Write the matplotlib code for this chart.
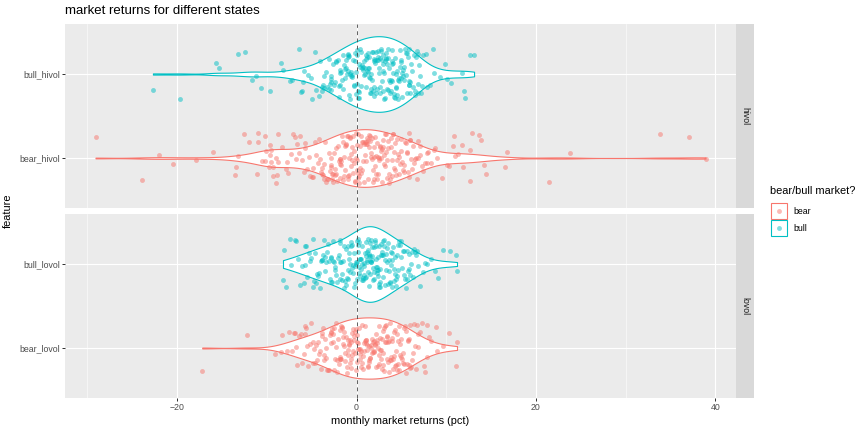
import numpy as np
import matplotlib
matplotlib.use("Agg")
import matplotlib.pyplot as plt
from matplotlib.patches import Rectangle

plt.rcParams['font.family'] = ['Liberation Sans', 'DejaVu Sans']

# ---------------- data (monthly market returns, pct) ----------------
bull_hivol = [
    -22.7, -19.7, -15.7, -15.3, -13.2, -12.4, -11.7, -11.2, -10.7, -9.6,
    -8.4, -8.2, -7.4, -7.2, -6.4, -6.2, -6.1, -6.0, -5.9, -5.4,
    -5.1, -5.0, -4.6, -4.5, -4.2, -4.1, -3.7,
    -3.9, -3.8, -3.6, -3.6, -3.4, -3.3, -3.1, -3.1, -3.0,
    -2.9, -2.8, -2.8, -2.6, -2.5, -2.4, -2.3, -2.3, -2.1, -2.0, -2.0, -2.9,
    -1.9, -1.8, -1.8, -1.7, -1.5, -1.5, -1.4, -1.3, -1.2, -1.2, -1.1, -1.0, -1.0, -1.6, -1.3,
    -0.9, -0.9, -0.8, -0.7, -0.7, -0.6, -0.5, -0.5, -0.4, -0.3, -0.3, -0.2, -0.1, -0.1, 0.0, -0.6, -0.2, -0.8,
    0.1, 0.1, 0.2, 0.3, 0.3, 0.4, 0.5, 0.5, 0.6, 0.6, 0.7, 0.8, 0.8, 0.9, 0.9, 1.0, 0.2, 0.4, 0.7, 0.3,
    1.1, 1.1, 1.2, 1.3, 1.3, 1.4, 1.4, 1.5, 1.6, 1.6, 1.7, 1.7, 1.8, 1.8, 1.9, 2.0, 1.2, 1.5, 1.9, 1.4, 1.6, 1.3,
    2.1, 2.1, 2.2, 2.3, 2.3, 2.4, 2.4, 2.5, 2.6, 2.6, 2.7, 2.7, 2.8, 2.9, 2.9, 3.0, 2.2, 2.5, 2.8, 2.4, 2.6, 2.0,
    3.1, 3.1, 3.2, 3.3, 3.3, 3.4, 3.5, 3.5, 3.6, 3.7, 3.7, 3.8, 3.9, 3.9, 4.0, 3.2, 3.4, 3.6, 3.8, 3.0, 3.5, 3.3,
    4.1, 4.1, 4.2, 4.3, 4.4, 4.4, 4.5, 4.6, 4.6, 4.7, 4.8, 4.9, 4.9, 5.0, 4.2, 4.5, 4.8, 4.3, 4.7, 4.0, 4.4,
    5.1, 5.2, 5.2, 5.3, 5.4, 5.5, 5.6, 5.7, 5.8, 5.9, 6.0, 5.3, 5.5, 5.8, 5.1, 5.6, 5.9,
    6.1, 6.2, 6.4, 6.5, 6.7, 6.8, 6.9, 6.3, 6.6, 6.0, 6.5, 6.9,
    7.0, 7.1, 7.3, 7.7, 7.4, 7.9, 7.2, 8.5, 8.6, 8.2, 9.9, 10.1, 9.3, 10.5,
    11.8, 12.0, 12.1, 12.6, 13.1,
]

bear_hivol = [
    -29.1, -23.9, -22.0, -20.5, -17.9, -16.0, -13.6, -13.4, -13.2, -12.5,
    -12.0, -11.1, -11.0, -11.0, -10.5, -10.2, -10.2, -10.1, -9.8, -9.7,
    -9.6, -9.5, -9.5, -9.3, -9.3, -9.0, -9.0, -8.9, -8.8, -8.8, -8.3,
    -7.9, -7.7, -7.6, -7.3, -7.1,
    -6.9, -6.8, -6.6, -6.4, -6.3, -6.1,
    -5.9, -5.8, -5.7, -5.5, -5.3, -5.2, -5.0,
    -4.9, -4.8, -4.6, -4.5, -4.3, -4.2, -4.1, -4.0,
    -3.9, -3.8, -3.7, -3.6, -3.5, -3.4, -3.3, -3.2, -3.1, -3.0, -3.6,
    -2.9, -2.9, -2.8, -2.7, -2.6, -2.6, -2.5, -2.4, -2.3, -2.3, -2.2, -2.1, -2.0, -2.7, -2.4,
    -1.9, -1.9, -1.8, -1.7, -1.7, -1.6, -1.5, -1.4, -1.4, -1.3, -1.2, -1.2, -1.1, -1.0, -1.5, -1.8, -1.3,
    -0.9, -0.9, -0.8, -0.8, -0.7, -0.6, -0.6, -0.5, -0.4, -0.4, -0.3, -0.2, -0.2, -0.1, 0.0, -0.5, -0.7, -0.3, -0.1,
    0.1, 0.1, 0.2, 0.2, 0.3, 0.4, 0.4, 0.5, 0.5, 0.6, 0.7, 0.7, 0.8, 0.8, 0.9, 1.0, 0.3, 0.6, 0.9, 0.2,
    1.1, 1.1, 1.2, 1.3, 1.3, 1.4, 1.5, 1.5, 1.6, 1.7, 1.7, 1.8, 1.9, 1.9, 2.0, 1.2, 1.4, 1.6, 1.8,
    2.1, 2.1, 2.2, 2.3, 2.4, 2.4, 2.5, 2.6, 2.6, 2.7, 2.8, 2.8, 2.9, 3.0, 2.3, 2.5, 2.7, 2.2,
    3.1, 3.2, 3.2, 3.3, 3.4, 3.5, 3.5, 3.6, 3.7, 3.8, 3.8, 3.9, 4.0, 3.3, 3.6, 3.1, 3.4,
    4.1, 4.2, 4.2, 4.3, 4.4, 4.5, 4.6, 4.7, 4.7, 4.8, 4.9, 5.0, 4.3, 4.5, 4.1,
    5.1, 5.2, 5.3, 5.4, 5.5, 5.6, 5.7, 5.8, 5.9, 6.0, 5.3, 5.6,
    6.1, 6.2, 6.3, 6.5, 6.6, 6.7, 6.8, 6.9, 6.4, 6.0,
    7.1, 7.1, 7.6, 7.3, 7.8, 7.4, 7.9,
    8.0, 8.3, 8.6, 8.8, 9.0,
    9.5, 10.1, 10.3, 10.8, 10.9, 11.0, 11.3, 11.8, 11.9, 12.6, 12.6, 12.9,
    13.7, 13.9, 14.2, 14.4, 16.6, 16.8, 21.4, 23.8, 33.8, 37.1, 38.9,
]

bull_lovol = [
    -8.2, -8.1, -7.9, -7.4, -7.3,
    -6.9, -6.7, -6.5, -6.3, -6.1,
    -5.9, -5.8, -5.6, -5.5, -5.3, -5.2, -5.1, -5.7,
    -4.9, -4.8, -4.7, -4.5, -4.4, -4.3, -4.2, -4.1, -4.0, -4.6,
    -3.9, -3.8, -3.7, -3.6, -3.5, -3.4, -3.3, -3.2, -3.1, -3.0, -3.5,
    -2.9, -2.8, -2.7, -2.6, -2.6, -2.5, -2.4, -2.3, -2.2, -2.1, -2.0, -2.8, -2.4,
    -1.9, -1.8, -1.8, -1.7, -1.6, -1.5, -1.4, -1.4, -1.3, -1.2, -1.1, -1.0, -1.6, -1.9, -1.2,
    -0.9, -0.9, -0.8, -0.7, -0.7, -0.6, -0.5, -0.5, -0.4, -0.3, -0.3, -0.2, -0.1, -0.1, 0.0, -0.8, -0.4, -0.6, -0.2,
    0.1, 0.1, 0.2, 0.2, 0.3, 0.3, 0.4, 0.4, 0.5, 0.5, 0.6, 0.6, 0.7, 0.7, 0.8, 0.8, 0.9, 0.9, 1.0, 0.2, 0.4, 0.6, 0.8, 0.3,
    1.1, 1.1, 1.2, 1.2, 1.3, 1.3, 1.4, 1.4, 1.5, 1.5, 1.6, 1.6, 1.7, 1.7, 1.8, 1.8, 1.9, 1.9, 2.0, 1.2, 1.4, 1.5, 1.6, 1.3, 1.7, 1.5,
    2.1, 2.1, 2.2, 2.2, 2.3, 2.3, 2.4, 2.4, 2.5, 2.5, 2.6, 2.6, 2.7, 2.7, 2.8, 2.8, 2.9, 2.9, 3.0, 2.2, 2.4, 2.6, 2.3, 2.5,
    3.1, 3.1, 3.2, 3.3, 3.3, 3.4, 3.5, 3.5, 3.6, 3.7, 3.7, 3.8, 3.9, 3.9, 4.0, 3.2, 3.4, 3.6, 3.8,
    4.1, 4.2, 4.2, 4.3, 4.4, 4.5, 4.5, 4.6, 4.7, 4.8, 4.9, 5.0, 4.3, 4.6, 4.4,
    5.1, 5.2, 5.3, 5.4, 5.5, 5.6, 5.7, 5.8, 5.9, 6.0, 5.3, 5.6,
    6.1, 6.3, 6.4, 6.6, 6.7, 6.9, 6.2, 6.5,
    7.1, 7.4, 7.6, 7.8,
    8.3, 8.7,
    9.1, 9.6, 10.4, 11.1, 11.2,
]

bear_lovol = [
    -17.2, -12.2, -9.1, -8.4, -8.3,
    -7.8, -7.5, -7.2, -7.0,
    -6.9, -6.6, -6.4, -6.2, -6.1, -6.7,
    -5.9, -5.7, -5.6, -5.4, -5.2, -5.1, -5.5, -5.8,
    -4.9, -4.8, -4.6, -4.5, -4.3, -4.2, -4.1, -4.0, -4.4, -4.7,
    -3.9, -3.8, -3.7, -3.6, -3.5, -3.4, -3.3, -3.2, -3.1, -3.0, -3.6, -3.4,
    -2.9, -2.8, -2.7, -2.6, -2.6, -2.5, -2.4, -2.3, -2.3, -2.2, -2.1, -2.0, -2.8, -2.5, -2.2,
    -1.9, -1.9, -1.8, -1.7, -1.7, -1.6, -1.5, -1.5, -1.4, -1.3, -1.3, -1.2, -1.1, -1.1, -1.0, -1.8, -1.6, -1.4,
    -0.9, -0.9, -0.8, -0.8, -0.7, -0.7, -0.6, -0.6, -0.5, -0.5, -0.4, -0.4, -0.3, -0.3, -0.2, -0.2, -0.1, -0.1, 0.0, -0.6,
    0.1, 0.1, 0.2, 0.2, 0.3, 0.3, 0.4, 0.4, 0.5, 0.5, 0.6, 0.6, 0.7, 0.7, 0.8, 0.8, 0.9, 0.9, 1.0, 0.4,
    1.1, 1.1, 1.2, 1.2, 1.3, 1.3, 1.4, 1.4, 1.5, 1.5, 1.6, 1.6, 1.7, 1.7, 1.8, 1.8, 1.9, 1.9, 2.0, 1.4,
    2.1, 2.1, 2.2, 2.2, 2.3, 2.3, 2.4, 2.4, 2.5, 2.5, 2.6, 2.6, 2.7, 2.7, 2.8, 2.8, 2.9, 2.9, 3.0, 2.5,
    3.1, 3.1, 3.2, 3.2, 3.3, 3.3, 3.4, 3.4, 3.5, 3.5, 3.6, 3.6, 3.7, 3.7, 3.8, 3.8, 3.9, 4.0, 3.4,
    4.1, 4.1, 4.2, 4.2, 4.3, 4.4, 4.4, 4.5, 4.5, 4.6, 4.7, 4.7, 4.8, 4.9, 5.0, 4.3, 4.6, 4.8,
    5.1, 5.2, 5.2, 5.3, 5.4, 5.5, 5.6, 5.7, 5.8, 5.9, 6.0, 5.3, 5.5, 5.7,
    6.1, 6.2, 6.4, 6.5, 6.7, 6.8, 6.9, 6.3, 6.6, 6.0,
    7.1, 7.3, 7.5, 7.8, 7.9, 7.6,
    8.1, 8.3, 8.9, 9.0,
    9.6, 10.3, 11.1, 11.2,
]

facets = ["hivol", "lovol"]
states = ["bear", "bull"]
features = {"hivol": ["bear_hivol", "bull_hivol"], "lovol": ["bear_lovol", "bull_lovol"]}
values = {"bear_hivol": bear_hivol, "bull_hivol": bull_hivol,
          "bear_lovol": bear_lovol, "bull_lovol": bull_lovol}
x_ticks = [-20, 0, 20, 40]
x_minor = [-30, -10, 10, 30]

title = "market returns for different states"
x_label = "monthly market returns (pct)"
y_label = "feature"
legend_title = "bear/bull market?"

# ---------------- style ----------------
colors = {"bear": "#F8766D", "bull": "#00BFC4"}
W, H = 864, 432
PANEL_BG = "#EBEBEB"
STRIP_BG = "#D9D9D9"
TICK_COL = "#333333"
LAB_COL = "#4D4D4D"


def bw_nrd0(x):
    x = np.asarray(x, float)
    sd = x.std(ddof=1)
    q75, q25 = np.percentile(x, [75, 25])
    lo = min(sd, (q75 - q25) / 1.34)
    return 0.9 * lo * len(x) ** (-0.2)


def kde(x, grid):
    x = np.asarray(x, float)
    bw = bw_nrd0(x)
    z = (grid[:, None] - x[None, :]) / bw
    return np.exp(-0.5 * z ** 2).sum(axis=1) / (len(x) * bw * np.sqrt(2 * np.pi))


def jitter(n, k):
    # deterministic vertical jitter offsets in [-1, 1] (layout only)
    i = np.arange(n) + 1 + 977 * k
    return ((np.sin(i * 12.9898) * 43758.5453) % 1.0) * 2 - 1


allv = np.concatenate([np.asarray(v, float) for v in values.values()])
rng = allv.max() - allv.min()
xlim = (allv.min() - 0.05 * rng, allv.max() + 0.05 * rng)

fig = plt.figure(figsize=(W / 72, H / 72), dpi=72)
fig.patch.set_facecolor("white")


def fx(px):
    return px / W


def fy(py):
    return 1 - py / H


pl, pr = 65, 736
panels = [(23.6, 208.4), (213.6, 398.4)]

for pi, facet in enumerate(facets):
    top, bot = panels[pi]
    ax = fig.add_axes([fx(pl), fy(bot), fx(pr - pl), (bot - top) / H])
    ax.set_facecolor(PANEL_BG)
    for s in ax.spines.values():
        s.set_visible(False)
    ax.set_xlim(*xlim)
    ax.set_ylim(0.4, 2.6)
    ax.set_xticks(x_ticks)
    ax.set_xticks(x_minor, minor=True)
    ax.set_yticks([1, 2])
    ax.set_yticklabels(features[facet])
    ax.grid(which="major", color="white", linewidth=1.1)
    ax.grid(which="minor", axis="x", color="white", linewidth=0.55)
    ax.set_axisbelow(True)
    ax.tick_params(which="major", length=2.75, width=1.0, color=TICK_COL,
                   labelcolor=LAB_COL, labelsize=8.8, pad=2.2)
    ax.tick_params(which="minor", length=0)
    if pi == 0:
        ax.tick_params(axis="x", which="both", length=0, labelbottom=False)

    feats = features[facet]
    grids, dens = [], []
    for f in feats:
        v = np.asarray(values[f], float)
        g = np.linspace(v.min(), v.max(), 512)
        grids.append(g)
        dens.append(kde(v, g))
    dmax = max(d.max() for d in dens)
    for k, (f, st) in enumerate(zip(feats, states)):
        v = np.asarray(values[f], float)
        ypos = k + 1
        w = 0.45 * dens[k] / dmax
        ax.fill_between(grids[k], ypos - w, ypos + w, facecolor="white",
                        edgecolor=colors[st], linewidth=1.1, zorder=2)
        jy = jitter(len(v), pi * 2 + k) * 0.3
        ax.scatter(v, ypos + jy, s=24, color=colors[st], alpha=0.5,
                   linewidths=0, zorder=3)
    ax.axvline(0, color="#4a4a4a", linewidth=0.85, dashes=(4.5, 4), zorder=4)

    # facet strip
    sax = fig.add_axes([fx(pr), fy(bot), fx(17.5), (bot - top) / H])
    sax.set_facecolor(STRIP_BG)
    sax.set_xticks([]); sax.set_yticks([])
    for s in sax.spines.values():
        s.set_visible(False)
    sax.text(0.5, 0.5, facet, rotation=270, ha="center", va="center",
             fontsize=8.8, color="#1A1A1A", transform=sax.transAxes)

# titles / labels
fig.text(fx(pl), fy(11), title, fontsize=13.2, ha="left", va="center", color="black")
fig.text(fx((pl + pr) / 2), fy(421), x_label, fontsize=11, ha="center", va="center")
fig.text(fx(8), fy(211), y_label, fontsize=11, rotation=90, ha="center", va="center")

# legend
fig.text(fx(770), fy(191), legend_title, fontsize=11, ha="left", va="center")
ov = fig.add_axes([0, 0, 1, 1], facecolor="none")
ov.set_xlim(0, W)
ov.set_ylim(H, 0)
ov.axis("off")
for k, st in enumerate(states):
    y0 = 203 + k * 17.3
    ov.add_patch(Rectangle((770.8, y0), 15.8, 15.6, facecolor="white",
                           edgecolor=colors[st], linewidth=1.1))
    ov.scatter([778.7], [y0 + 7.8], s=24, color=colors[st], alpha=0.5, linewidths=0)
    ov.text(793, y0 + 8.2, st, fontsize=8.8, ha="left", va="center", color="black")

fig.savefig("out.png", dpi=72)
